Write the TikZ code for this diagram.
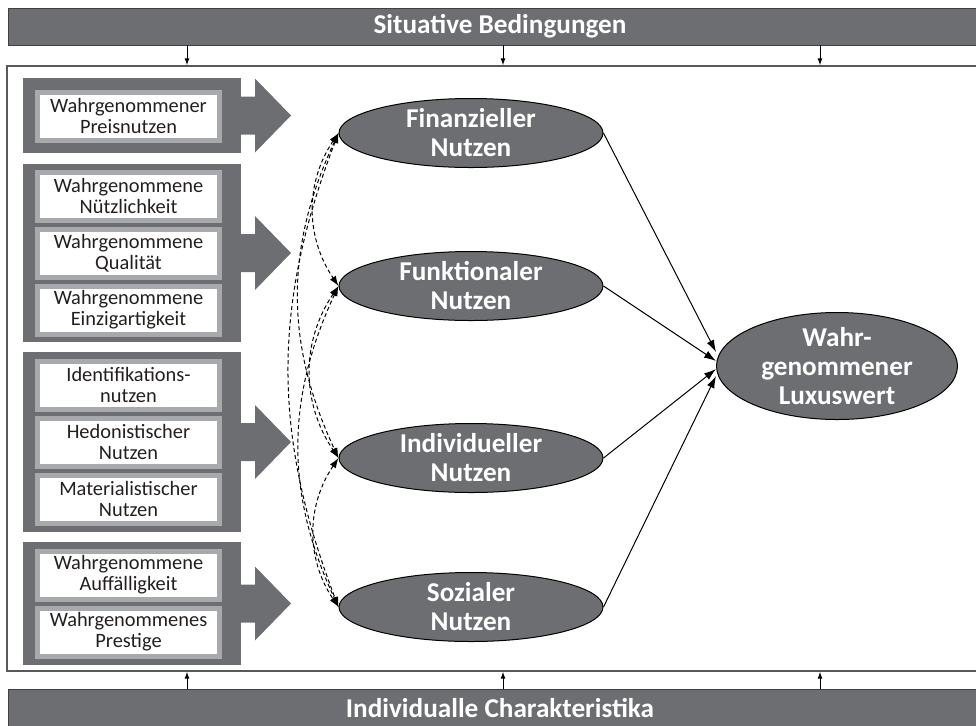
\documentclass[tikz,border=0pt]{standalone}
\usepackage{fontspec}
\setmainfont{Carlito}
\usetikzlibrary{arrows.meta,shapes.geometric}
\definecolor{darkgrey}{HTML}{6D6E71}
\definecolor{lightgrey}{HTML}{A7A9AC}
\definecolor{textgrey}{HTML}{231F20}
\begin{document}
\begin{tikzpicture}[
                x=0.5pt, y=-0.5pt,
                bar/.style={
                    rectangle,
                    draw=black!75,
                    fill=darkgrey,
                    text=white,
                    minimum width=492pt,
                    inner sep=0pt,
                    font=\fontsize{13.6}{15}\selectfont\bfseries
                },
                frame/.style={
                    rectangle,
                    draw=black!65,
                    line width=0.7pt,
                    minimum width=492pt,
                    minimum height=302.5pt
                },
                group/.style={
                    fill=darkgrey
                },
                item/.style={
                    rectangle,
                    draw=lightgrey,
                    line width=2.5pt,
                    fill=white,
                    text=textgrey,
                    minimum width=91pt,
                    minimum height=24pt,
                    inner sep=0pt,
                    align=center,
                    font=\fontsize{10.2}{10.6}\selectfont
                },
                value/.style={
                    ellipse,
                    draw=black,
                    line width=0.5pt,
                    fill=darkgrey,
                    text=white,
                    minimum width=132pt,
                    minimum height=34.5pt,
                    inner xsep=0pt,
                    inner ysep=-1.3pt,
                    align=center,
                    font=\fontsize{13.6}{14.5}\selectfont\bfseries
                },
                effect/.style={
                    -{Latex[length=6pt,width=4pt]},
                    line width=0.5pt
                },
                relation/.style={
                    {Latex[length=5pt,width=3.5pt]}-{Latex[length=5pt,width=3.5pt]},
                    dash pattern=on 2pt off 1.4pt,
                    line width=0.5pt
                },
                context/.style={
                    -{Latex[length=3.5pt,width=2.5pt]},
                    line width=0.5pt
                }
            ]

                \clip (0,0) rectangle (976,725);
                \useasboundingbox (0,0) rectangle (976,725);

                \node[bar, minimum height=18.5pt] (sit) at (500,26.5) {Situative Bedingungen};
                \node[bar, minimum height=19pt, text depth=0pt] (ind) at (500,708) {Individualle Charakteristika};
                \node[frame] (box) at (499,368.5) {};

                \foreach \colname/\colx in {c1/187, c2/503, c3/820} {
                    \coordinate (\colname) at (\colx,0);
                    \draw[context] (sit.south -| \colname) -- (box.north -| \colname);
                    \draw[context] (ind.north -| \colname) -- (box.south -| \colname);
                }

                \foreach \gtop/\gbot in {78/153, 164/342, 352/532, 542/665} {
                    \pgfmathsetmacro{\gmid}{(\gtop+\gbot)/2}
                    \fill[group] (23,\gtop) rectangle (241,\gbot);
                    \fill[group] (240,\gmid-19) -- (255,\gmid-19) -- (255,\gmid-37)
                        -- (291,\gmid) -- (255,\gmid+37) -- (255,\gmid+19) -- (240,\gmid+19) -- cycle;
                }

                \node[item] (preis) at (128.5,116) {Wahrgenommener\\Preisnutzen};
                \node[item] (nuetz) at (128.5,196) {Wahrgenommene\\Nützlichkeit};
                \node[item] (qual) at (128.5,253) {Wahrgenommene\\Qualität};
                \node[item] (einz) at (128.5,310) {Wahrgenommene\\Einzigartigkeit};
                \node[item] (ident) at (128.5,385) {Identifikations-\\nutzen};
                \node[item] (hedo) at (128.5,442) {Hedonistischer\\Nutzen};
                \node[item] (mater) at (128.5,499) {Materialistischer\\Nutzen};
                \node[item] (auff) at (128.5,575) {Wahrgenommene\\Auffälligkeit};
                \node[item] (prest) at (128.5,632) {Wahrgenommenes\\Prestige};

                \node[value] (fin) at (471,133) {Finanzieller\\Nutzen};
                \node[value] (fun) at (471,286) {Funktionaler\\Nutzen};
                \node[value] (indiv) at (471,458) {Individueller\\Nutzen};
                \node[value] (soz) at (471,607) {Sozialer\\Nutzen};
                \node[value, minimum width=120.5pt, minimum height=53.5pt] (lux) at (837,366) {Wahr-\\genommener\\Luxuswert};

                \draw[effect] (fin.east) -- ([yshift=7pt]lux.west);
                \draw[effect] (fun.east) -- ([yshift=2.5pt]lux.west);
                \draw[effect] (indiv.east) -- ([yshift=-1.5pt]lux.west);
                \draw[effect] (soz.east) -- ([yshift=-5pt]lux.west);

                \draw[relation] (fin.west) to[bend right=34] (fun.west);
                \draw[relation] (fun.west) to[bend right=34] (indiv.west);
                \draw[relation] (indiv.west) to[bend right=34] (soz.west);
                \draw[relation] (fin.west) to[bend right=25] (indiv.west);
                \draw[relation] (fun.west) to[bend right=25] (soz.west);
                \draw[relation] (fin.west) to[bend right=21] (soz.west);

            \end{tikzpicture}
\end{document}
